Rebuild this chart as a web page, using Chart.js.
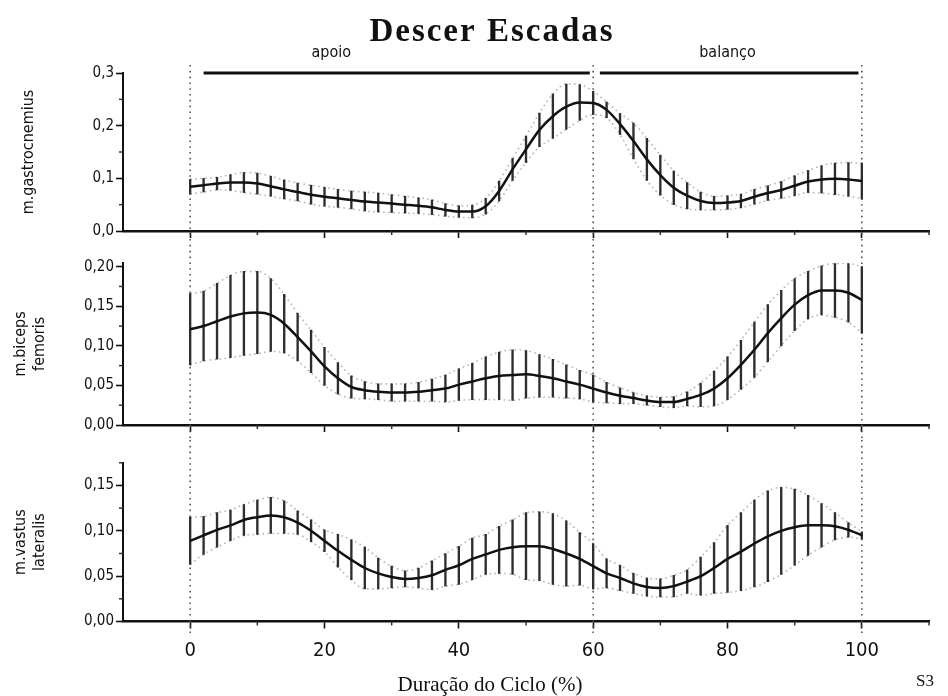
<!DOCTYPE html>
<html>
<head>
<meta charset="utf-8">
<script src="https://cdn.jsdelivr.net/npm/chart.js@4.4.1/dist/chart.umd.min.js"></script>
<style>
  html, body { margin: 0; padding: 0; background: #fff; }
  #wrap { position: relative; width: 948px; height: 696px; overflow: hidden; background: #fff; }
  .panel { position: absolute; left: 0; width: 948px; }
</style>
</head>
<body>
<div id="wrap">
  <div class="panel" style="top:0;height:245px"><canvas id="gastro"></canvas></div>
  <div class="panel" style="top:245px;height:195px"><canvas id="biceps"></canvas></div>
  <div class="panel" style="top:440px;height:256px"><canvas id="vastus"></canvas></div>
</div>
<script>
// Gait cycle (%) at which mean and SD are sampled
const cyclePct = [0, 2, 4, 6, 8, 10, 12, 14, 16, 18, 20, 22, 24, 26, 28, 30, 32, 34, 36, 38, 40,
  42, 44, 46, 48, 50, 52, 54, 56, 58, 60, 62, 64, 66, 68, 70, 72, 74, 76, 78, 80,
  82, 84, 86, 88, 90, 92, 94, 96, 98, 100];

// m. gastrocnemius
const gastroMean = [0.084, 0.087, 0.090, 0.092, 0.092, 0.090, 0.085, 0.079, 0.074, 0.069, 0.065,
  0.062, 0.059, 0.056, 0.054, 0.052, 0.050, 0.048, 0.045, 0.040, 0.037,
  0.037, 0.047, 0.076, 0.117, 0.155, 0.192, 0.218, 0.236, 0.244, 0.243,
  0.230, 0.203, 0.171, 0.136, 0.106, 0.082, 0.067, 0.057, 0.053, 0.054,
  0.057, 0.065, 0.072, 0.078, 0.086, 0.094, 0.098, 0.099, 0.098, 0.095];
const gastroSD = [0.014, 0.013, 0.012, 0.015, 0.019, 0.020, 0.019, 0.018, 0.017, 0.018, 0.018,
  0.017, 0.017, 0.018, 0.018, 0.017, 0.016, 0.015, 0.014, 0.012, 0.011,
  0.012, 0.015, 0.019, 0.021, 0.025, 0.032, 0.042, 0.043, 0.034, 0.022,
  0.015, 0.020, 0.034, 0.040, 0.038, 0.032, 0.025, 0.017, 0.013, 0.013,
  0.013, 0.014, 0.014, 0.016, 0.019, 0.021, 0.026, 0.030, 0.032, 0.034];

// m. biceps femoris
const bicepsMean = [0.121, 0.125, 0.131, 0.137, 0.141, 0.142, 0.139, 0.128, 0.111, 0.093, 0.074,
  0.059, 0.048, 0.044, 0.042, 0.041, 0.041, 0.042, 0.044, 0.046, 0.051,
  0.055, 0.059, 0.062, 0.063, 0.064, 0.062, 0.059, 0.055, 0.051, 0.046,
  0.041, 0.037, 0.034, 0.031, 0.029, 0.029, 0.033, 0.038, 0.046, 0.059,
  0.076, 0.095, 0.116, 0.135, 0.152, 0.164, 0.170, 0.170, 0.167, 0.158];
const bicepsSD = [0.045, 0.044, 0.048, 0.052, 0.053, 0.052, 0.046, 0.037, 0.030, 0.027, 0.024,
  0.020, 0.014, 0.011, 0.010, 0.011, 0.011, 0.012, 0.014, 0.017, 0.020,
  0.023, 0.027, 0.030, 0.032, 0.030, 0.027, 0.024, 0.021, 0.018, 0.017,
  0.013, 0.010, 0.007, 0.006, 0.006, 0.007, 0.009, 0.015, 0.022, 0.027,
  0.031, 0.035, 0.036, 0.035, 0.033, 0.030, 0.031, 0.034, 0.037, 0.042];

// m. vastus lateralis
const vastusMean = [0.089, 0.095, 0.101, 0.106, 0.112, 0.115, 0.117, 0.115, 0.109, 0.100, 0.089,
  0.078, 0.068, 0.059, 0.053, 0.049, 0.047, 0.048, 0.051, 0.057, 0.062,
  0.069, 0.074, 0.079, 0.082, 0.083, 0.083, 0.080, 0.075, 0.069, 0.061,
  0.053, 0.048, 0.042, 0.038, 0.037, 0.039, 0.044, 0.050, 0.059, 0.069,
  0.077, 0.086, 0.094, 0.100, 0.104, 0.106, 0.106, 0.105, 0.101, 0.095];
const vastusSD = [0.026, 0.021, 0.019, 0.017, 0.017, 0.019, 0.020, 0.018, 0.013, 0.012, 0.012,
  0.018, 0.022, 0.023, 0.017, 0.012, 0.009, 0.011, 0.016, 0.018, 0.021,
  0.023, 0.022, 0.026, 0.030, 0.037, 0.038, 0.039, 0.036, 0.029, 0.025,
  0.016, 0.014, 0.011, 0.010, 0.010, 0.012, 0.013, 0.021, 0.028, 0.037,
  0.043, 0.048, 0.050, 0.048, 0.042, 0.033, 0.024, 0.015, 0.008, 0.004];

// Phase markers and the apoio / balanço bar
const phaseMarks = [0, 60, 100];
const phaseNames = ['apoio', 'balanço'];
const phaseLabelX = [21, 80];
const phaseBarStart = [2, 61];
const phaseBarEnd = [59.5, 99.5];
const phaseBarLevel = 0.3;

// Axis ticks
const xTickValues = [0, 20, 40, 60, 80, 100];
const xTickLabels = ['0', '20', '40', '60', '80', '100'];
const xMinorTicks = [10, 30, 50, 70, 90, 110];

const gastroYTicks = [0, 0.1, 0.2, 0.3];
const gastroYLabels = ['0,0', '0,1', '0,2', '0,3'];
const gastroYMinor = [0.05, 0.15, 0.25];
const bicepsYTicks = [0, 0.05, 0.10, 0.15, 0.20];
const bicepsYLabels = ['0,00', '0,05', '0,10', '0,15', '0,20'];
const bicepsYMinor = [0.025, 0.075, 0.125, 0.175];
const vastusYTicks = [0, 0.05, 0.10, 0.15];
const vastusYLabels = ['0,00', '0,05', '0,10', '0,15'];
const vastusYMinor = [0.025, 0.075, 0.125, 0.175];

const NARROW = '"Liberation Sans Narrow", "DejaVu Sans Condensed", "Liberation Sans", sans-serif';
const SERIF = '"Liberation Serif", "DejaVu Serif", serif';
const INK = '#111';

// Dotted phase lines, minor ticks and free text
const decor = {
  id: 'decor',
  beforeDatasetsDraw(chart, args, opts) {
    const { ctx } = chart;
    const xs = chart.scales.x;
    ctx.save();
    ctx.strokeStyle = '#555';
    ctx.lineWidth = 1.6;
    ctx.setLineDash([1.6, 4.2]);
    for (const v of phaseMarks) {
      const px = xs.getPixelForValue(v);
      ctx.beginPath();
      ctx.moveTo(px, opts.lineTop);
      ctx.lineTo(px, opts.lineBottom);
      ctx.stroke();
    }
    ctx.restore();
  },
  afterDraw(chart, args, opts) {
    const { ctx, chartArea } = chart;
    const xs = chart.scales.x, ys = chart.scales.y;
    ctx.save();
    ctx.strokeStyle = '#333';
    ctx.lineWidth = 1.5;
    for (const v of xMinorTicks) {
      const px = xs.getPixelForValue(v);
      ctx.beginPath();
      ctx.moveTo(px, chartArea.bottom);
      ctx.lineTo(px, chartArea.bottom + 4);
      ctx.stroke();
    }
    for (const v of opts.yMinor) {
      const py = ys.getPixelForValue(v);
      ctx.beginPath();
      ctx.moveTo(chartArea.left - 4, py);
      ctx.lineTo(chartArea.left, py);
      ctx.stroke();
    }
    for (const t of (opts.texts || [])) {
      ctx.font = t.font;
      ctx.fillStyle = INK;
      ctx.textAlign = 'center';
      ctx.textBaseline = 'middle';
      ctx.letterSpacing = t.spacing || '0px';
      const px = (t.xValue !== undefined) ? xs.getPixelForValue(t.xValue) : t.x;
      ctx.fillText(t.text, px, t.y);
    }
    ctx.letterSpacing = '0px';
    ctx.restore();
  }
};

function panelDatasets(mean, sd) {
  const meanPts = cyclePct.map((x, i) => ({ x, y: mean[i] }));
  const upper = cyclePct.map((x, i) => ({ x, y: mean[i] + sd[i] }));
  const lower = cyclePct.map((x, i) => ({ x, y: mean[i] - sd[i] }));
  const bars = cyclePct.map((x, i) => ({ x, y: [mean[i] - sd[i], mean[i] + sd[i]] }));
  return [
    { type: 'line', data: meanPts, borderColor: INK, borderWidth: 2.5, pointRadius: 0,
      cubicInterpolationMode: 'monotone', fill: false },
    { type: 'bar', data: bars, backgroundColor: '#2e2e2e', borderWidth: 0, barThickness: 1.7 },
    { type: 'line', data: upper, borderColor: 'rgba(110,110,110,0.5)', borderWidth: 1.6,
      borderDash: [1.6, 3.4], pointRadius: 0, cubicInterpolationMode: 'monotone', fill: false },
    { type: 'line', data: lower, borderColor: 'rgba(110,110,110,0.5)', borderWidth: 1.6,
      borderDash: [1.6, 3.4], pointRadius: 0, cubicInterpolationMode: 'monotone', fill: false }
  ];
}

function makePanel(id, cfg) {
  const datasets = panelDatasets(cfg.mean, cfg.sd).concat(cfg.extra || []);
  return new Chart(document.getElementById(id), {
    type: 'line',
    data: { datasets },
    options: {
      responsive: true,
      maintainAspectRatio: false,
      animation: false,
      events: [],
      layout: { padding: { top: cfg.padTop, right: 19, left: 0, bottom: 0 } },
      plugins: {
        legend: { display: false },
        tooltip: { enabled: false },
        decor: { lineTop: cfg.lineTop, lineBottom: cfg.lineBottom, yMinor: cfg.yMinor, texts: cfg.texts }
      },
      scales: {
        x: {
          type: 'linear', min: -10, max: 110, offset: false,
          afterBuildTicks: s => { s.ticks = xTickValues.map(v => ({ value: v })); },
          afterFit: s => { s.height = cfg.xHeight; },
          grid: { drawOnChartArea: false, drawTicks: true, tickLength: 7, tickColor: INK, tickWidth: 1.6, offset: false },
          border: { color: INK, width: 2.5 },
          ticks: {
            display: cfg.showXLabels, autoSkip: false, maxRotation: 0, padding: 10, color: INK,
            font: { family: NARROW, size: 20 },
            callback: (v, i) => xTickLabels[i]
          }
        },
        y: {
          type: 'linear', min: 0, max: cfg.yMax,
          afterBuildTicks: s => { s.ticks = cfg.yTicks.map(v => ({ value: v })); },
          afterFit: s => { s.width = 123; },
          grid: { drawOnChartArea: false, drawTicks: true, tickLength: 7, tickColor: INK, tickWidth: 1.6 },
          border: { color: INK, width: 2 },
          ticks: {
            autoSkip: false, padding: 2, color: INK,
            font: { family: NARROW, size: 15 },
            callback: (v, i) => cfg.yLabels[i]
          },
          title: {
            display: true, text: cfg.yTitle, color: INK,
            padding: { top: cfg.titlePad, bottom: 0 },
            font: { family: NARROW, size: 16, lineHeight: 1.15 }
          }
        }
      }
    },
    plugins: [decor]
  });
}

// Phase bar drawn at the top of the first panel
const phaseBar = [
  { x: phaseBarStart[0], y: phaseBarLevel }, { x: phaseBarEnd[0], y: phaseBarLevel },
  { x: (phaseBarEnd[0] + phaseBarStart[1]) / 2, y: null },
  { x: phaseBarStart[1], y: phaseBarLevel }, { x: phaseBarEnd[1], y: phaseBarLevel }
];

makePanel('gastro', {
  mean: gastroMean, sd: gastroSD,
  yMax: 0.3, yTicks: gastroYTicks, yLabels: gastroYLabels, yMinor: gastroYMinor,
  yTitle: 'm.gastrocnemius', titlePad: 20,
  padTop: 73, xHeight: 14, showXLabels: false,
  lineTop: 65, lineBottom: 245,
  extra: [{ type: 'line', data: phaseBar, borderColor: INK, borderWidth: 3, pointRadius: 0,
            spanGaps: false, clip: false, tension: 0 }],
  texts: [
    { text: 'Descer Escadas', x: 492, y: 32, font: 'bold 33px ' + SERIF, spacing: '2px' },
    { text: phaseNames[0], xValue: phaseLabelX[0], y: 53, font: '16px ' + NARROW },
    { text: phaseNames[1], xValue: phaseLabelX[1], y: 53, font: '16px ' + NARROW }
  ]
});

makePanel('biceps', {
  mean: bicepsMean, sd: bicepsSD,
  yMax: 0.205, yTicks: bicepsYTicks, yLabels: bicepsYLabels, yMinor: bicepsYMinor,
  yTitle: ['m.biceps', 'femoris'], titlePad: 12,
  padTop: 17.7, xHeight: 15, showXLabels: false,
  lineTop: 0, lineBottom: 195,
  texts: []
});

makePanel('vastus', {
  mean: vastusMean, sd: vastusSD,
  yMax: 0.175, yTicks: vastusYTicks, yLabels: vastusYLabels, yMinor: vastusYMinor,
  yTitle: ['m.vastus', 'lateralis'], titlePad: 12,
  padTop: 22.8, xHeight: 74.5, showXLabels: true,
  lineTop: 0, lineBottom: 195,
  texts: [
    { text: 'Duração do Ciclo (%)', x: 490, y: 245, font: '21px ' + SERIF },
    { text: 'S3', x: 925, y: 242, font: '17px ' + SERIF }
  ]
});
</script>
</body>
</html>
